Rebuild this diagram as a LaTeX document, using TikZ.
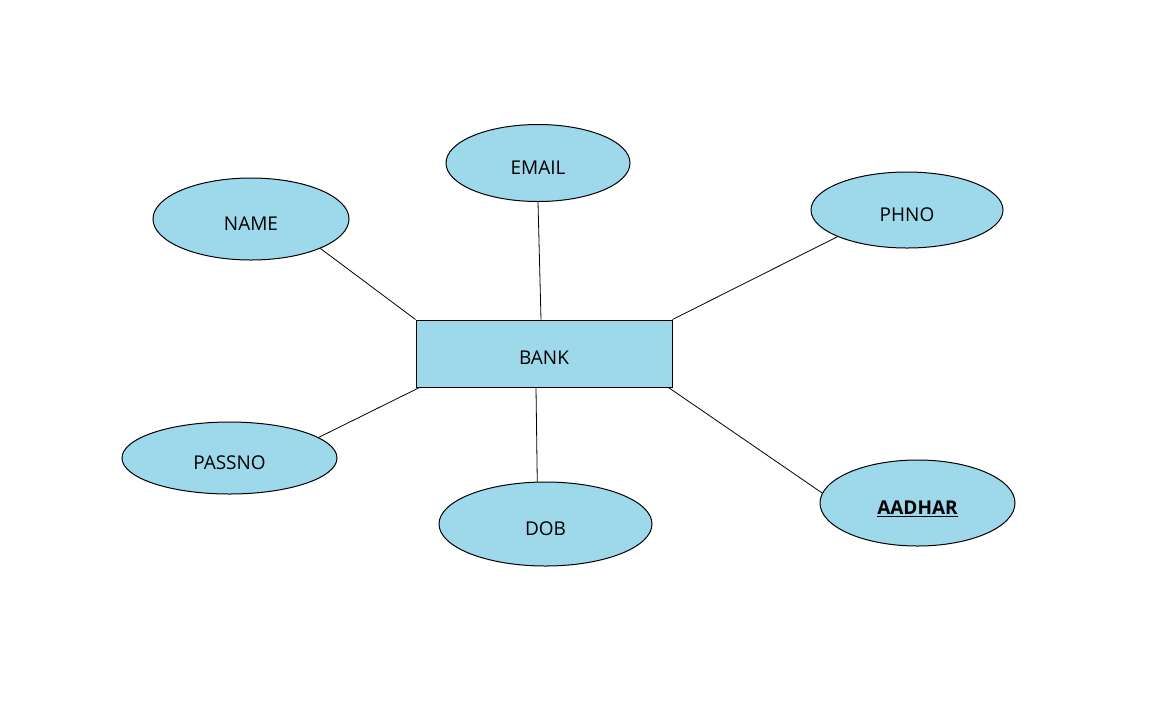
\documentclass[tikz,border=0pt]{standalone}
\usepackage{fontspec}
\setmainfont{Open Sans}
\usetikzlibrary{shapes.geometric}
\definecolor{attrfill}{RGB}{157,217,234}
\begin{document}
\begin{tikzpicture}[x=0.5pt,y=-0.5pt,
  lbl/.style={font=\fontsize{9.5}{11}\selectfont,text height=11pt,text depth=0pt},
  attr/.style={ellipse,draw=black,line width=0.5pt,fill=attrfill,inner sep=0pt,lbl},
  ent/.style={rectangle,draw=black,line width=0.5pt,fill=attrfill,inner sep=0pt,minimum width=128pt,minimum height=33.5pt,lbl},
  link/.style={draw=black,line width=0.4pt}]
\useasboundingbox (0,0) rectangle (1152,720);
\node[ent] (bank) at (544,353.5) {BANK};
\node[attr,minimum width=92pt,minimum height=38.5pt] (email) at (538,163) {EMAIL};
\node[attr,minimum width=98pt,minimum height=41pt] (name) at (251,219) {NAME};
\node[attr,minimum width=96pt,minimum height=38pt] (phno) at (907,210) {PHNO};
\node[attr,minimum width=107.5pt,minimum height=36pt] (passno) at (229.5,458) {PASSNO};
\node[attr,minimum width=106.5pt,minimum height=42pt] (dob) at (545.5,524) {DOB};
\node[attr,minimum width=97.5pt,minimum height=43pt] (aadhar) at (917.5,503) {\textbf{\underline{AADHAR}}};
\draw[link] (name.-23) -- (bank.north west);
\draw[link] (email.south) -- ([xshift=-1.5pt]bank.north);
\draw[link] (phno.201) -- (bank.north east);
\draw[link] (passno.13) -- ([xshift=2pt]bank.south west);
\draw[link] (dob.101) -- ([xshift=-4pt]bank.south);
\draw[link] (aadhar.174) -- ([xshift=-2pt]bank.south east);
\end{tikzpicture}
\end{document}
